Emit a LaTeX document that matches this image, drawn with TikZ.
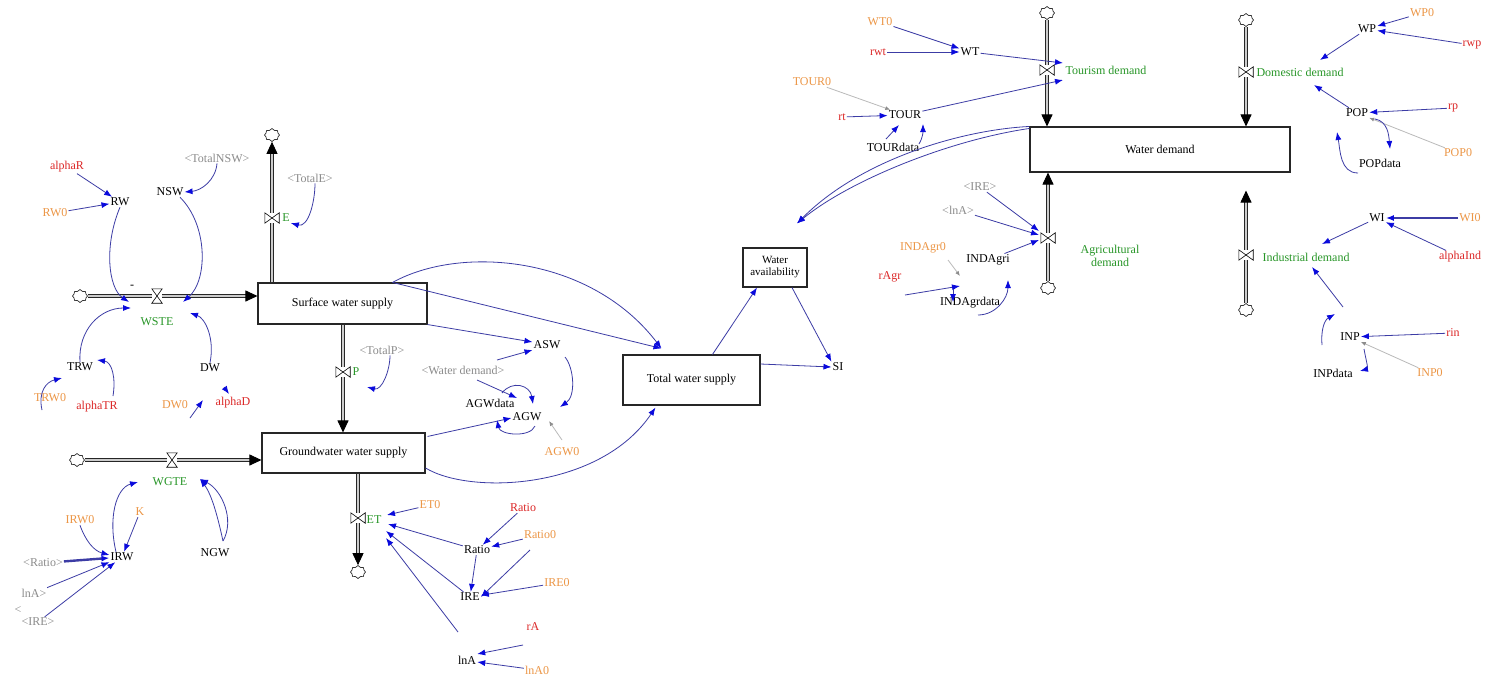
\documentclass[tikz,border=0pt]{standalone}
\usepackage{fontspec}
\setmainfont{Liberation Serif}
\usetikzlibrary{arrows.meta,calc,shapes.symbols}
\definecolor{orng}{RGB}{236,150,70}
\definecolor{rd}{RGB}{220,40,40}
\definecolor{grn}{RGB}{40,150,40}
\definecolor{gry}{RGB}{140,140,140}
\definecolor{lnkc}{RGB}{60,60,165}
\definecolor{arrc}{RGB}{10,10,220}
\newcommand\mkhvalve[2]{\node[valv,minimum width=10pt,minimum height=14pt] (#1) at #2 {};
  \draw[valvline] (#1.north west) -- (#1.north east) -- (#1.south west) -- (#1.south east) -- cycle;}
\newcommand\mkvvalve[2]{\node[valv,minimum width=14pt,minimum height=10pt] (#1) at #2 {};
  \draw[valvline] (#1.north west) -- (#1.south west) -- (#1.north east) -- (#1.south east) -- cycle;}
\begin{document}
\begin{tikzpicture}[x=1pt,y=-1pt,
  every node/.style={font=\fontsize{12}{13}\selectfont, inner sep=1pt},
  vb/.style={text=black},
  cst/.style={text=orng},
  rte/.style={text=rd},
  fl/.style={text=grn},
  sh/.style={text=gry},
  stockbox/.style={draw=black!85, line width=1.1pt, fill=white, align=center},
  lnk/.style={draw=lnkc, line width=0.8pt, -{Latex[length=8pt,width=6pt,color=arrc]}},
  glnk/.style={draw=gry!60, line width=0.8pt, -{Latex[length=5pt,width=4pt,color=gry]}},
  pipe/.style={draw=black!85, line width=0.9pt, double=gray!40, double distance=2.6pt, -{Triangle[length=12pt,width=11pt,color=black]}},
  cld/.style={cloud, cloud puffs=8, cloud ignores aspect, draw=black!80, line width=0.7pt, minimum width=15pt, minimum height=13pt, inner sep=0pt, fill=white},
  valv/.style={inner sep=0pt, fill=white},
  valvline/.style={draw=black, line width=0.6pt, fill=white},
]
\useasboundingbox (0,0) rectangle (1486,681);
\fill[white] (0,0) rectangle (1486,681);

% ---------- stocks ----------
\node[stockbox, minimum width=169pt, minimum height=41pt] (Surf) at (342.5,303.5) {Surface water supply};
\node[stockbox, minimum width=163pt, minimum height=40pt] (Gnd) at (343.5,453) {Groundwater water supply};
\node[stockbox, minimum width=137pt, minimum height=50pt] (Total) at (691.5,380) {Total water supply};
\node[stockbox, minimum width=64pt, minimum height=39pt, font=\fontsize{11}{12}\selectfont] (WA) at (775,267.5) {Water\\availability};
\node[stockbox, minimum width=260pt, minimum height=45pt] (WD) at (1160,149.5) {Water demand};

% ---------- clouds ----------
\node[cld] (cL1) at (80,296) {};
\node[cld] (cL2) at (77,460) {};
\node[cld] (cE) at (272,135) {};
\node[cld] (cET) at (358,572) {};
\node[cld] (cT) at (1047,13) {};
\node[cld] (cD) at (1246,20) {};
\node[cld] (cA) at (1048,288) {};
\node[cld] (cI) at (1246,310) {};

% ---------- pipes ----------
\draw[pipe] (cL1.east) -- (cL1 -| Surf.west);
\draw[pipe] (cE |- Surf.north) -- (cE.south);
\draw[pipe] (343,0 |- Surf.south) -- (343,0 |- Gnd.north);
\draw[pipe] (cL2.east) -- (cL2 -| Gnd.west);
\draw[pipe] (cET |- Gnd.south) -- (cET.north);
\draw[pipe] (cT.south) -- (cT |- WD.north);
\draw[pipe] (cD.south) -- (cD |- WD.north);
\draw[pipe] (cA.north) -- (cA |- WD.south);
\draw[pipe] (cI.north) -- ($(cI |- WD.south)+(0,18)$);

% ---------- valves ----------
\mkhvalve{vWSTE}{(157,296)}
\mkhvalve{vWGTE}{(172,460)}
\mkvvalve{vE}{(272,218)}
\mkvvalve{vP}{(343,372)}
\mkvvalve{vET}{(358,518)}
\mkvvalve{vT}{(1047,70)}
\mkvvalve{vD}{(1246,72)}
\mkvvalve{vA}{(1048,238)}
\mkvvalve{vI}{(1246,255)}

% ---------- variables: left ----------
\node[rte] (alphaR) at (67,167) {alphaR};
\node[vb] (RW) at (120,202) {RW};
\node[cst] (RW0) at (55,213) {RW0};
\node[sh] (TotalNSW) at (217,158) {<TotalNSW>};
\node[vb] (NSW) at (170,192) {NSW};
\node[sh] (TotalE) at (310,178) {<TotalE>};
\node[fl] (Elab) at (286,218) {E};
\node[vb] (minus) at (132,287) {-};
\node[fl] (WSTE) at (157,322) {WSTE};
\node[vb] (TRW) at (80,367) {TRW};
\node[vb] (DW) at (210,368) {DW};
\node[cst] (TRW0) at (50,398) {TRW0};
\node[rte] (alphaTR) at (97,407) {alphaTR};
\node[cst] (DW0) at (175,405) {DW0};
\node[rte] (alphaD) at (233,403) {alphaD};
\node[sh] (TotalP) at (382,350) {<TotalP>};
\node[fl] (Plab) at (356,372) {P};
\node[fl] (WGTE) at (170,482) {WGTE};
\node[vb] (IRW) at (122,557) {IRW};
\node[cst] (K) at (140,512) {K};
\node[cst] (IRW0) at (80,520) {IRW0};
\node[vb] (NGW) at (215,553) {NGW};
\node[sh] (RatioS) at (43,563) {<Ratio>};
\node[sh] (lnAS) at (34,593) {lnA>};
\node[sh] (ltS) at (18,610) {<};
\node[sh] (IRES) at (38,622) {<IRE>};
\node[fl] (ETlab) at (374,520) {ET};
\node[cst] (ET0) at (430,505) {ET0};
\node[rte] (RatioR) at (523,508) {Ratio};
\node[cst] (Ratio0) at (540,535) {Ratio0};
\node[vb] (Ratio) at (477,550) {Ratio};
\node[vb] (IRE) at (470,597) {IRE};
\node[cst] (IRE0) at (557,583) {IRE0};
\node[rte] (rA) at (533,627) {rA};
\node[vb] (lnA) at (467,660) {lnA};
\node[cst] (lnA0) at (537,670) {lnA0};

% ---------- variables: middle ----------
\node[sh] (WDS) at (463,370) {<Water demand>};
\node[vb] (ASW) at (547,345) {ASW};
\node[vb] (AGWdata) at (490,403) {AGWdata};
\node[vb] (AGW) at (527,417) {AGW};
\node[cst] (AGW0) at (562,452) {AGW0};
\node[vb] (SI) at (838,367) {SI};

% ---------- variables: top ----------
\node[cst] (WT0) at (880,22) {WT0};
\node[rte] (rwt) at (878,52) {rwt};
\node[vb] (WT) at (970,52) {WT};
\node[cst] (TOUR0) at (812,82) {TOUR0};
\node[rte] (rtl) at (842,117) {rt};
\node[vb] (TOUR) at (905,115) {TOUR};
\node[vb] (TOURdata) at (893,147) {TOURdata};
\node[fl] (Tour) at (1106,70) {Tourism demand};
\node[fl] (Dom) at (1300,72) {Domestic demand};
\node[sh] (IREs2) at (980,187) {<IRE>};
\node[sh] (lnAs2) at (958,210) {<lnA>};
\node[cst] (INDAgr0) at (923,248) {INDAgr0};
\node[vb] (INDAgri) at (988,260) {INDAgri};
\node[rte] (rAgr) at (890,277) {rAgr};
\node[vb] (INDAgrdata) at (970,303) {INDAgrdata};
\node[fl, align=center] (Agr) at (1110,256) {Agricultural\\demand};

% ---------- variables: right ----------
\node[vb] (WP) at (1367,29) {WP};
\node[cst] (WP0) at (1422,13) {WP0};
\node[rte] (rwp) at (1472,45) {rwp};
\node[vb] (POP) at (1357,113) {POP};
\node[rte] (rp) at (1453,108) {rp};
\node[cst] (POP0) at (1458,153) {POP0};
\node[vb] (POPdata) at (1380,163) {POPdata};
\node[fl] (Ind) at (1306,257) {Industrial demand};
\node[vb] (WI) at (1377,218) {WI};
\node[cst] (WI0) at (1470,218) {WI0};
\node[rte] (alphaInd) at (1460,257) {alphaInd};
\node[vb] (INP) at (1350,337) {INP};
\node[rte] (rin) at (1453,333) {rin};
\node[cst] (INP0) at (1430,373) {INP0};
\node[vb] (INPdata) at (1333,373) {INPdata};

% ---------- links: left top ----------
\draw[lnk] (alphaR) -- (RW);
\draw[lnk] (RW0) -- (RW);
\draw[lnk] (TotalNSW.south) to[out=-95,in=5] (NSW.east);
\draw[lnk] ($(TotalE.south)+(5,0)$) to[out=-90,in=-15] (Elab.south east);
\draw[lnk] (RW.south) .. controls (104,245) and (108,288) .. ($(vWSTE)+(-28,6)$);
\draw[lnk] ($(NSW.south)+(10,0)$) .. controls (208,225) and (208,280) .. ($(vWSTE)+(26,6)$);
\draw[lnk] (TRW.north) .. controls (78,330) and (100,308) .. ($(vWSTE)+(-26,12)$);
\draw[lnk] (DW.north) .. controls (215,338) and (205,318) .. ($(vWSTE)+(33,17)$);
\draw[lnk] ($(TRW0)+(-8,12)$) .. controls (38,392) and (46,382) .. ($(TRW)+(-18,11)$);
\draw[lnk] ($(alphaTR)+(16,-11)$) .. controls (116,378) and (112,362) .. ($(TRW)+(17,-7)$);
\draw[lnk] ($(DW0)+(15,13)$) -- ($(DW)+(-7,32)$);
\draw[lnk] ($(DW)+(14,19)$) -- ($(alphaD)+(-4,-9)$);
\draw[lnk] ($(TotalP.south)+(8,0)$) to[out=-90,in=-15] ($(Plab)+(11,15)$);

% ---------- links: groundwater ----------
\draw[lnk] ($(IRW.north)+(-6,0)$) .. controls (108,518) and (116,488) .. ($(WGTE)+(-32,0)$);
\draw[lnk] ($(NGW)+(8,-12)$) .. controls (235,520) and (222,490) .. ($(WGTE)+(30,-3)$);
\draw[lnk] ($(NGW)+(8,-12)$) .. controls (218,518) and (212,495) .. ($(WGTE)+(30,-3)$);
\draw[lnk] (K) -- (IRW);
\draw[lnk] (IRW0.south) to[out=-70,in=165] ($(IRW.west)+(0,-2)$);
\draw[lnk, line width=2.4pt] (RatioS) -- (IRW);
\draw[lnk] (lnAS) -- (IRW);
\draw[lnk] (IRES) -- (IRW);

% ---------- links: ET ----------
\draw[lnk] (ET0) -- ($(ETlab)+(13,-5)$);
\draw[lnk] (Ratio) -- ($(ETlab)+(14,4)$);
\draw[lnk] (IRE) -- ($(ETlab)+(12,11)$);
\draw[lnk] ($(lnA)+(-9,-28)$) -- ($(ETlab)+(12,18)$);
\draw[lnk] (RatioR) -- (Ratio);
\draw[lnk] (Ratio0) -- (Ratio);
\draw[lnk] (Ratio) -- (IRE);
\draw[lnk] ($(Ratio0)+(-10,15)$) -- (IRE.east);
\draw[lnk] (IRE0) -- (IRE);
\draw[lnk] ($(rA)+(-10,18)$) -- ($(lnA.east)+(0,-6)$);
\draw[lnk] (lnA0) -- ($(lnA.east)+(0,2)$);

% ---------- links: middle ----------
\draw[lnk] (Surf.south east) -- ($(ASW.west)+(0,-3)$);
\draw[lnk] ($(WDS)+(34,-10)$) -- ($(ASW.west)+(0,5)$);
\draw[lnk] ($(ASW)+(18,12)$) .. controls (574,368) and (576,396) .. ($(AGW)+(33,-10)$);
\draw[lnk] ($(Gnd.north east)+(2,4)$) -- ($(AGW.west)+(0,1)$);
\draw[lnk] ($(WDS)+(14,10)$) -- ($(AGW)+(-10,-19)$);
\draw[lnk] ($(AGWdata)+(12,-10)$) .. controls (512,380) and (530,385) .. ($(AGW)+(6,-13)$);
\draw[lnk] ($(AGW)+(8,9)$) .. controls (530,438) and (500,435) .. ($(AGWdata)+(7,17)$);
\draw[glnk] ($(AGW0)+(0,-12)$) -- ($(AGW)+(22,4)$);
\draw[lnk] ($(Surf.north east)+(-35,0)$) -- ($(Total.north west)+(39,-6)$);
\draw[lnk] ($(Surf.north east)+(-35,0)$) .. controls (460,245) and (590,255) .. ($(Total.north west)+(39,-6)$);
\draw[lnk] ($(Gnd.east)+(0,15)$) .. controls (470,495) and (600,490) .. ($(Total.south west)+(33,2)$);
\draw[lnk] ($(Total.north)+(21,0)$) -- ($(WA.south)+(-18,0)$);
\draw[lnk] ($(WA.south)+(17,0)$) -- (SI.north west);
\draw[lnk] ($(Total.east)+(0,-16)$) -- (SI.west);
\draw[lnk] (WD.north west) .. controls (960,130) and (860,160) .. ($(WA.north)+(22,-24)$);
\draw[lnk] ($(WD.north west)+(0,2)$) .. controls (950,140) and (850,180) .. ($(WA.north)+(22,-24)$);

% ---------- links: tourism ----------
\draw[lnk] (WT0) -- (WT);
\draw[lnk] (rwt) -- (WT);
\draw[lnk] (WT) -- ($(vT)+(16,-7)$);
\draw[lnk] (TOUR) -- ($(vT)+(16,10)$);
\draw[glnk] (TOUR0) -- (TOUR);
\draw[lnk] (rtl) -- (TOUR);
\draw[lnk] ($(TOURdata)+(-7,-8)$) -- ($(TOUR)+(-6,10)$);
\draw[lnk] ($(TOURdata)+(26,-3)$) to[out=60,in=-90] ($(TOUR)+(18,9)$);

% ---------- links: agriculture ----------
\draw[lnk] (IREs2) -- ($(vA)+(-9,-7)$);
\draw[lnk] (lnAs2) -- ($(vA)+(-9,-3)$);
\draw[lnk] (INDAgri) -- ($(vA)+(-9,2)$);
\draw[lnk] ($(rAgr)+(15,18)$) -- ($(INDAgrdata)+(-10,-17)$);
\draw[glnk] ($(INDAgr0)+(25,12)$) -- ($(INDAgrdata)+(-10,-27)$);
\draw[lnk] ($(INDAgrdata)+(-17,-14)$) -- ($(INDAgrdata)+(-17,-1)$);
\draw[lnk] ($(INDAgrdata)+(8,12)$) to[out=0,in=-90] ($(INDAgri)+(20,20)$);

% ---------- links: domestic & industrial ----------
\draw[lnk] (WP0) -- (WP);
\draw[lnk] (rwp) -- (WP);
\draw[lnk] (WP) -- ($(Dom)+(20,-12)$);
\draw[lnk] (POP) -- ($(Dom)+(14,13)$);
\draw[lnk] (rp) -- (POP);
\draw[glnk] (POP0) -- (POP);
\draw[lnk] ($(POP)+(18,6)$) to[out=-10,in=95] ($(POPdata)+(10,-14)$);
\draw[lnk] ($(POPdata)+(-22,10)$) to[out=180,in=-80] ($(POP)+(-20,19)$);
\draw[lnk, line width=2.4pt] (WI0) -- (WI);
\draw[lnk] (alphaInd) -- (WI);
\draw[lnk] (WI) -- ($(Ind)+(16,-13)$);
\draw[lnk] ($(INP)+(-7,-30)$) -- ($(Ind)+(6,10)$);
\draw[lnk] ($(INP)+(-28,8)$) to[out=95,in=-150] ($(INP)+(-15,-23)$);
\draw[lnk] (rin) -- (INP);
\draw[glnk] (INP0) -- (INP);
\draw[lnk] ($(INP)+(14,12)$) to[out=-80,in=15] ($(INPdata)+(27,-2)$);
\end{tikzpicture}
\end{document}
